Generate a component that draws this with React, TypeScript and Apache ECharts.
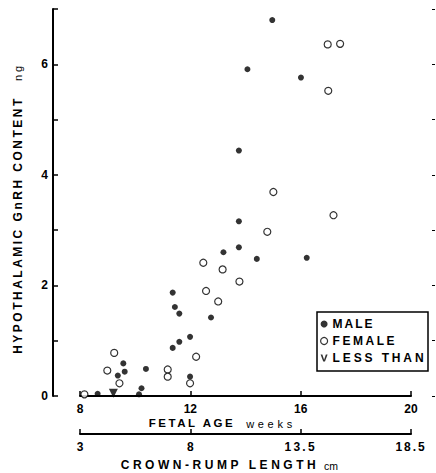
import React, { useEffect, useRef } from 'react';
import * as echarts from 'echarts';

// Fetal age (weeks) and hypothalamic GnRH content (ng)
const maleAge = [8.64, 9.37, 9.57, 9.62, 10.14, 10.23, 10.39, 11.36, 11.36, 11.44, 11.6, 11.6, 11.99, 11.99, 12.75, 13.2, 13.76, 13.76, 14.41, 16.22, 13.76, 14.07, 14.97, 16.01];
const maleContent = [0.04, 0.37, 0.59, 0.44, 0.03, 0.14, 0.49, 0.87, 1.87, 1.61, 1.49, 0.98, 1.07, 0.35, 1.42, 2.6, 2.69, 3.16, 2.48, 2.5, 4.44, 5.91, 6.8, 5.76];

const femaleAge = [8.16, 8.99, 9.24, 9.43, 11.18, 11.18, 11.99, 12.21, 12.47, 12.57, 13.01, 13.17, 13.78, 14.79, 15.01, 17.19, 17.0, 16.98, 17.43];
const femaleContent = [0.03, 0.46, 0.78, 0.23, 0.48, 0.35, 0.23, 0.71, 2.41, 1.9, 1.71, 2.29, 2.07, 2.97, 3.69, 3.27, 5.52, 6.36, 6.37];

const lessThanAge = [9.21];
const lessThanContent = [0.05];

const ageTicks = [8, 12, 16, 20];
const crownRumpLabels = ['3', '8', '13.5', '18.5'];

const FONT = '"Liberation Sans", Arial, Helvetica, sans-serif';

// target visual widths (px) of the letter-spaced texts
const TARGET_WIDTH: Record<string, number> = {
  'HYPOTHALAMIC GnRH CONTENT': 255,
  'ng': 15,
  'FETAL AGE': 84,
  'weeks': 46,
  'CROWN-RUMP LENGTH': 195,
  'cm': 14,
  'MALE': 40,
  'FEMALE': 62,
  'LESS THAN': 91,
  '13.5': 30,
  '18.5': 29,
};

export default function App() {
  const ref = useRef<HTMLDivElement>(null);
  useEffect(() => {
    document.body.style.margin = '0';
    const chart = echarts.init(ref.current!, null, { renderer: 'svg', width: 436, height: 473 });
    const zip = (a: number[], b: number[]) => a.map((v, i) => [v, b[i]]);
    const tickLabel = { color: '#000', fontSize: 12, fontWeight: 'bold', fontFamily: FONT };
    const baseX = {
      type: 'value',
      min: ageTicks[0],
      max: ageTicks[ageTicks.length - 1],
      interval: 4,
      position: 'bottom',
      splitLine: { show: false },
      axisLine: { show: true, onZero: false, lineStyle: { color: '#000', width: 2 } },
      axisTick: { show: true, inside: true, length: 5, lineStyle: { color: '#000', width: 1.5 } },
    };
    const centered = { fill: '#000', fontFamily: FONT, textAlign: 'center', textVerticalAlign: 'middle' };
    chart.setOption({
      animation: false,
      backgroundColor: '#fff',
      grid: { left: 80, right: 25, top: 9, bottom: 77, containLabel: false, outerBoundsMode: 'none' },
      xAxis: [
        { ...baseX, axisLabel: { ...tickLabel, margin: 7 } },
        {
          ...baseX,
          offset: 38,
          axisLabel: {
            ...tickLabel,
            margin: 7,
            formatter: (v: number) => crownRumpLabels[ageTicks.indexOf(v)] ?? '',
          },
        },
      ],
      yAxis: [
        {
          type: 'value',
          min: 0,
          max: 7,
          interval: 1,
          position: 'left',
          offset: 27,
          splitLine: { show: false },
          axisLine: { show: true, onZero: false, lineStyle: { color: '#000', width: 2 } },
          axisTick: { show: true, inside: true, length: 5, lineStyle: { color: '#000', width: 1.5 } },
          axisLabel: { ...tickLabel, margin: 5, formatter: (v: number) => (v % 2 === 0 ? String(v) : '') },
        },
        {
          type: 'value',
          min: 0,
          max: 7,
          interval: 1,
          position: 'right',
          offset: 21,
          splitLine: { show: false },
          axisLine: { show: false },
          axisTick: { show: true, inside: false, length: 3, lineStyle: { color: '#000', width: 1 } },
          axisLabel: { show: false },
        },
      ],
      legend: {
        orient: 'vertical',
        left: 318,
        top: 312,
        itemWidth: 7,
        itemHeight: 7,
        itemGap: 3,
        padding: [5, 0, 0, 2],
        selectedMode: false,
        textStyle: { color: '#000', fontSize: 12, fontWeight: 'bold', fontFamily: FONT, lineHeight: 14 },
        data: [
          { name: 'MALE', icon: 'circle', itemStyle: { color: '#000', borderWidth: 0 } },
          { name: 'FEMALE', icon: 'circle', itemStyle: { color: '#fff', borderColor: '#000', borderWidth: 1.2 } },
          {
            name: 'LESS THAN',
            icon: 'path://M0,0 L3,0 L6,9 L9,0 L12,0 L7.5,12 L4.5,12 Z',
            itemStyle: { color: '#000', borderWidth: 0 },
          },
        ],
      },
      graphic: [
        {
          type: 'rect',
          z: 100,
          shape: { x: 317, y: 312, width: 111, height: 59 },
          style: { fill: 'transparent', stroke: '#000', lineWidth: 1.5 },
        },
        {
          type: 'text',
          x: 18,
          y: 225,
          rotation: Math.PI / 2,
          style: { ...centered, text: 'HYPOTHALAMIC GnRH CONTENT', fontSize: 12, fontWeight: 'bold' },
        },
        {
          type: 'text',
          x: 18,
          y: 72,
          rotation: Math.PI / 2,
          style: { ...centered, text: 'ng', fontSize: 11 },
        },
        {
          type: 'text',
          x: 192,
          y: 423,
          style: { ...centered, text: 'FETAL AGE', fontSize: 11.5, fontWeight: 'bold' },
        },
        {
          type: 'text',
          x: 271,
          y: 424,
          style: { ...centered, text: 'weeks', fontSize: 11 },
        },
        {
          type: 'text',
          x: 220,
          y: 465,
          style: { ...centered, text: 'CROWN-RUMP LENGTH', fontSize: 12, fontWeight: 'bold' },
        },
        {
          type: 'text',
          x: 331,
          y: 466,
          style: { ...centered, text: 'cm', fontSize: 10.5 },
        },
      ],
      series: [
        {
          name: 'MALE',
          type: 'scatter',
          symbol: 'circle',
          symbolSize: 6,
          itemStyle: { color: '#000' },
          data: zip(maleAge, maleContent),
        },
        {
          name: 'FEMALE',
          type: 'scatter',
          symbol: 'circle',
          symbolSize: 7,
          itemStyle: { color: '#fff', borderColor: '#000', borderWidth: 1.2 },
          data: zip(femaleAge, femaleContent),
        },
        {
          name: 'LESS THAN',
          type: 'scatter',
          symbol: 'triangle',
          symbolRotate: 180,
          symbolSize: 9,
          itemStyle: { color: '#000' },
          data: zip(lessThanAge, lessThanContent),
        },
      ],
    });
    const apply = () => {
      const root = ref.current;
      if (!root) return;
      root.querySelectorAll('text').forEach((node) => {
        const t = node as SVGTextElement;
        const txt = (t.textContent || '').trim();
        const target = TARGET_WIDTH[txt];
        if (target === undefined || txt.length < 2) return;
        t.style.letterSpacing = '0px';
        let natural = 0;
        try {
          natural = t.getComputedTextLength();
        } catch (e) {
          return;
        }
        if (!natural) return;
        const ls = (target - natural) / (txt.length - 1);
        t.style.letterSpacing = ls.toFixed(2) + 'px';
      });
    };
    apply();
    chart.on('finished', apply);
    const timer = setTimeout(apply, 30);
    return () => {
      clearTimeout(timer);
      chart.dispose();
    };
  }, []);
  return (
    <div
      ref={ref}
      style={{ position: 'absolute', left: 0, top: 0, width: 436, height: 473, background: '#fff' }}
    />
  );
}
